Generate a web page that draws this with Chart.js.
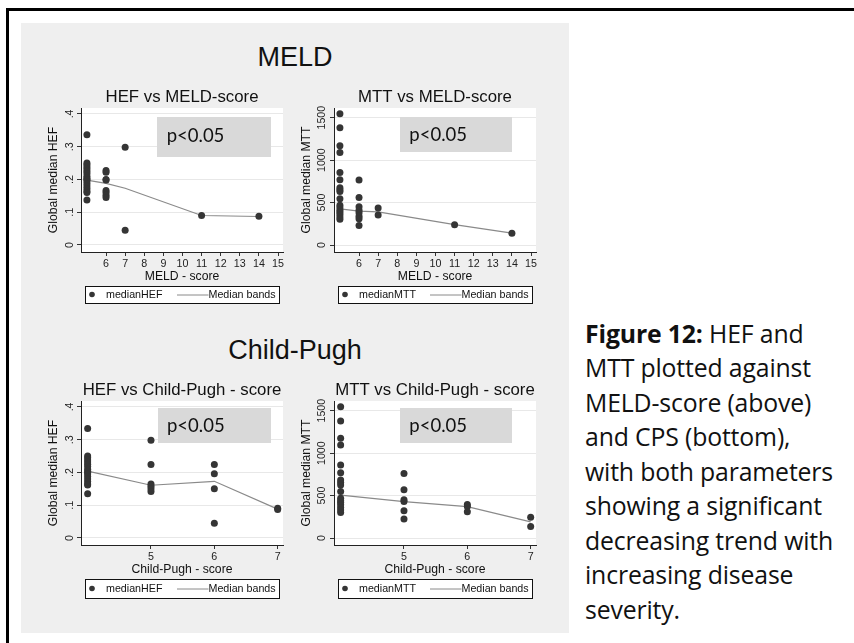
<!DOCTYPE html>
<html><head><meta charset="utf-8">
<script src="https://cdn.jsdelivr.net/npm/chart.js@4.4.0/dist/chart.umd.min.js"></script>
<style>
html,body{margin:0;padding:0;background:#fff;width:854px;height:643px;overflow:hidden;position:relative;font-family:"Liberation Sans",Arial,sans-serif;}
.frame{position:absolute;left:6px;top:8px;width:900px;height:700px;border-left:3px solid #000;border-top:3px solid #000;}
.panel{position:absolute;left:21px;top:23px;width:548px;height:610px;background:#efefef;}
canvas{position:absolute;}
.head{position:absolute;width:300px;text-align:center;font-size:27px;line-height:27px;color:#111;white-space:nowrap;}
.pbox{position:absolute;background:#d9d9d9;}
.ptxt{position:absolute;font-family:Lato,"Open Sans",sans-serif;font-size:18.5px;line-height:18.5px;color:#111;white-space:nowrap;}
.cap{position:absolute;left:585px;top:315.8px;font-family:"Open Sans",Lato,sans-serif;font-size:24.8px;line-height:34.5px;color:#111;white-space:nowrap;letter-spacing:-0.15px;}
.cap b{font-weight:700;}
</style></head><body>
<div class="frame"></div>
<div class="panel"></div>
<div class="head" style="left:145px;top:43.8px">MELD</div>
<div class="head" style="left:145px;top:336.8px">Child-Pugh</div>
<canvas id="c1" width="275" height="235" style="left:21px;top:80px"></canvas>
<canvas id="c2" width="275" height="235" style="left:274px;top:80px"></canvas>
<canvas id="c3" width="275" height="235" style="left:21px;top:373px"></canvas>
<canvas id="c4" width="275" height="235" style="left:274px;top:373px"></canvas>
<div class="pbox" style="left:157px;top:117px;width:114px;height:40px"></div>
<div class="ptxt" style="left:166.7px;top:125.9px">p&lt;0.05</div>
<div class="pbox" style="left:400px;top:116.5px;width:112px;height:35px"></div>
<div class="ptxt" style="left:409.3px;top:125.3px">p&lt;0.05</div>
<div class="pbox" style="left:158px;top:407.7px;width:113px;height:35px"></div>
<div class="ptxt" style="left:167px;top:415.9px">p&lt;0.05</div>
<div class="pbox" style="left:400px;top:407.7px;width:112px;height:35px"></div>
<div class="ptxt" style="left:409.3px;top:415.9px">p&lt;0.05</div>
<div class="cap"><b>Figure 12:</b> HEF and<br>MTT plotted against<br>MELD-score (above)<br>and CPS (bottom),<br>with both parameters<br>showing a significant<br>decreasing trend with<br>increasing disease<br>severity.</div>
<script>
// ---- data ----
const meldLevels = [5, 6, 7, 11, 14];
const cpsLevels = [4, 5, 6, 7];

const hefByMeld = [
  [0.336, 0.25, 0.245, 0.238, 0.232, 0.225, 0.218, 0.21, 0.204, 0.2, 0.195, 0.188, 0.18, 0.172, 0.165, 0.16, 0.137],
  [0.227, 0.222, 0.2, 0.198, 0.166, 0.16, 0.152, 0.145],
  [0.298, 0.045],
  [0.09],
  [0.088]
];
const mttByMeld = [
  [1545, 1380, 1170, 1090, 855, 770, 675, 650, 630, 545, 470, 440, 410, 385, 360, 330, 305],
  [765, 560, 450, 410, 380, 340, 310, 230],
  [435, 355],
  [240],
  [140]
];
const hefByCps = [
  [0.334, 0.25, 0.245, 0.238, 0.232, 0.225, 0.218, 0.21, 0.204, 0.2, 0.195, 0.188, 0.18, 0.172, 0.165, 0.162, 0.135],
  [0.298, 0.224, 0.165, 0.158, 0.15, 0.142],
  [0.224, 0.196, 0.15, 0.045],
  [0.091, 0.087]
];
const mttByCps = [
  [1545, 1378, 1175, 1096, 860, 770, 685, 655, 626, 548, 470, 440, 420, 391, 360, 330, 300],
  [760, 570, 450, 430, 320, 225],
  [395, 370, 310],
  [245, 135]
];
const hefMeldBands = [0.198, 0.188, 0.173, 0.09, 0.087];
const mttMeldBands = [425, 400, 390, 240, 140];
const hefCpsBands = [0.204, 0.161, 0.173, 0.088];
const mttCpsBands = [505, 430, 370, 190];

const meldTicks = [6, 7, 8, 9, 10, 11, 12, 13, 14, 15];
const cpsTicks = [5, 6, 7];
const hefTicks = [0, 0.1, 0.2, 0.3, 0.4];
const hefTickLabels = ['0', '.1', '.2', '.3', '.4'];
const mttTicks = [0, 500, 1000, 1500];
const mttTickLabels = ['0', '500', '1000', '1500'];

// ---- helpers ----
Chart.defaults.font.family = '"Liberation Sans", Arial, sans-serif';
Chart.defaults.color = '#222';

function pts(levels, groups) {
  const out = [];
  levels.forEach((lv, i) => groups[i].forEach(v => out.push({x: lv, y: v})));
  return out;
}
function bands(levels, vals) { return levels.map((lv, i) => ({x: lv, y: vals[i]})); }

const plotBg = {
  id: 'plotBg',
  beforeDraw(chart) {
    const a = chart.chartArea, ctx = chart.ctx;
    ctx.save(); ctx.fillStyle = '#fff';
    ctx.fillRect(a.left, a.top, a.right - a.left, a.bottom - a.top);
    ctx.restore();
  }
};
const boxLegend = {
  id: 'boxLegend',
  afterDraw(chart, args, opts) {
    const a = chart.chartArea, ctx = chart.ctx;
    const ds = chart.data.datasets;
    const L = a.left + 4, R = a.right - 4, T = a.bottom + 34, H = opts.h || 18;
    const cy = T + H / 2;
    ctx.save();
    ctx.fillStyle = '#fff'; ctx.fillRect(L, T, R - L, H);
    ctx.strokeStyle = '#111'; ctx.lineWidth = 1;
    ctx.strokeRect(Math.round(L) + 0.5, Math.round(T) + 0.5, Math.round(R - L), Math.round(H));
    ctx.fillStyle = ds[0].backgroundColor;
    ctx.beginPath(); ctx.arc(L + 7, cy, 2.8, 0, Math.PI * 2); ctx.fill();
    ctx.font = '10.7px "Liberation Sans", Arial, sans-serif';
    ctx.textBaseline = 'middle'; ctx.textAlign = 'left'; ctx.fillStyle = '#111';
    ctx.fillText(ds[0].label, L + 21, cy + 0.5);
    ctx.strokeStyle = ds[1].borderColor; ctx.lineWidth = 1;
    ctx.beginPath(); ctx.moveTo(L + 92, cy + 0.5); ctx.lineTo(L + 123.5, cy + 0.5); ctx.stroke();
    ctx.fillStyle = '#111';
    ctx.fillText(ds[1].label, L + 123.5, cy + 0.5);
    ctx.restore();
  }
};

function makeChart(id, o) {
  new Chart(document.getElementById(id), {
    type: 'scatter',
    data: {
      datasets: [
        {label: o.ptLabel, data: o.points, backgroundColor: '#353535', borderWidth: 0,
         pointRadius: 3.5, pointHoverRadius: 3.5},
        {label: 'Median bands', data: o.line, showLine: true, borderColor: '#8a8a8a',
         backgroundColor: '#8a8a8a', borderWidth: 1.2, pointRadius: 0, fill: false, tension: 0}
      ]
    },
    options: {
      responsive: false, animation: false,
      layout: {padding: {left: 0, right: 13, top: 0, bottom: 31}},
      plugins: {
        legend: {display: false}, tooltip: {enabled: false},
        title: {display: true, text: o.title, fullSize: false, color: '#111',
                font: {size: 16.8, weight: 'normal'}, padding: {top: 7, bottom: 0.84}},
        boxLegend: {h: o.legH}
      },
      scales: {
        x: {
          type: 'linear', min: o.xMin, max: o.xMax,
          afterBuildTicks: s => { s.ticks = o.xTicks.map(v => ({value: v})); },
          afterFit: s => { s.height = 32; },
          ticks: {autoSkip: false, minRotation: 0, maxRotation: 0, padding: 2,
                  font: {size: 10.7}, color: '#222', callback: (v, i) => String(o.xTicks[i])},
          grid: {drawOnChartArea: false, drawTicks: true, tickLength: 4, tickColor: '#333'},
          border: {display: true, color: '#222', width: 1},
          title: {display: true, text: o.xTitle, color: '#111', font: {size: 12.2}, padding: {top: 0, bottom: 0}}
        },
        y: {
          type: 'linear', min: o.yMin, max: o.yMax,
          afterBuildTicks: s => { s.ticks = o.yTicks.map(v => ({value: v})); },
          afterFit: s => { s.width = 60; },
          ticks: {autoSkip: false, minRotation: 90, maxRotation: 90, crossAlign: 'center',
                  padding: o.yPad, font: {size: 10.7}, color: '#222',
                  callback: (v, i) => o.yLabels[i]},
          grid: {color: '#e8e8e8', lineWidth: 1, drawTicks: true, tickLength: 4, tickColor: '#333'},
          border: {display: true, color: '#222', width: 1},
          title: {display: true, text: o.yTitle, color: '#111', font: {size: 12.2}, padding: {top: 25.7, bottom: 0}}
        }
      }
    },
    plugins: [plotBg, boxLegend]
  });
}

makeChart('c1', {title: 'HEF vs MELD-score', ptLabel: 'medianHEF',
  points: pts(meldLevels, hefByMeld), line: bands(meldLevels, hefMeldBands),
  xMin: 4.69, xMax: 15.26, xTicks: meldTicks, xTitle: 'MELD - score',
  yMin: -0.0214, yMax: 0.418, yTicks: hefTicks, yLabels: hefTickLabels, yPad: 2,
  yTitle: 'Global median HEF', legH: 17});
makeChart('c2', {title: 'MTT vs MELD-score', ptLabel: 'medianMTT',
  points: pts(meldLevels, mttByMeld), line: bands(meldLevels, mttMeldBands),
  xMin: 4.69, xMax: 15.26, xTicks: meldTicks, xTitle: 'MELD - score',
  yMin: -82, yMax: 1614, yTicks: mttTicks, yLabels: mttTickLabels, yPad: -3.6,
  yTitle: 'Global median MTT', legH: 17});
makeChart('c3', {title: 'HEF vs Child-Pugh - score', ptLabel: 'medianHEF',
  points: pts(cpsLevels, hefByCps), line: bands(cpsLevels, hefCpsBands),
  xMin: 3.895, xMax: 7.084, xTicks: cpsTicks, xTitle: 'Child-Pugh - score',
  yMin: -0.0214, yMax: 0.418, yTicks: hefTicks, yLabels: hefTickLabels, yPad: 2,
  yTitle: 'Global median HEF', legH: 19});
makeChart('c4', {title: 'MTT vs Child-Pugh - score', ptLabel: 'medianMTT',
  points: pts(cpsLevels, mttByCps), line: bands(cpsLevels, mttCpsBands),
  xMin: 3.895, xMax: 7.084, xTicks: cpsTicks, xTitle: 'Child-Pugh - score',
  yMin: -82, yMax: 1614, yTicks: mttTicks, yLabels: mttTickLabels, yPad: -3.6,
  yTitle: 'Global median MTT', legH: 19});
</script>
</body></html>
